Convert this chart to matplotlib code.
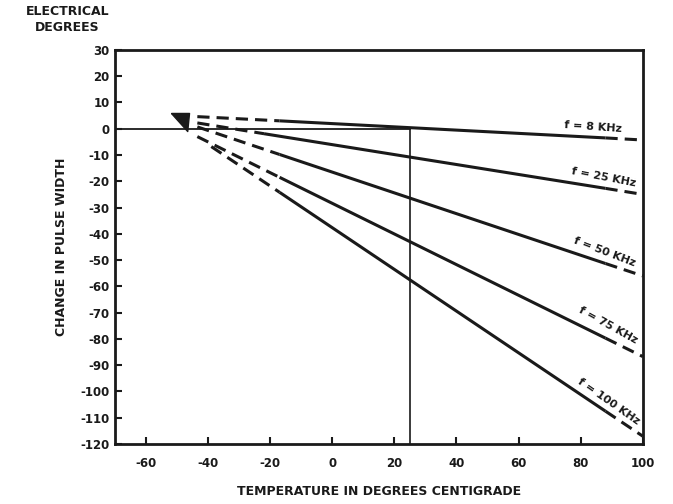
import matplotlib
matplotlib.use("Agg")
import matplotlib.pyplot as plt

# ---- data ----
labels = ["f = 8 KHz", "f = 25 KHz", "f = 50 KHz", "f = 75 KHz", "f = 100 KHz"]
# temperature break points: start of dashed part, start of solid, end of solid, end of line
temps_8 = [-43.5, -17, 88, 100]
vals_8 = [4.6, 3.0, -3.5, -4.3]
temps_25 = [-43.5, -22, 88, 100]
vals_25 = [2.2, -1.9, -22.7, -25.0]
temps_50 = [-43.5, -17, 88, 100]
vals_50 = [0.7, -9.8, -51.3, -56.0]
temps_75 = [-43.5, -17, 88, 100]
vals_75 = [-3.0, -18.5, -79.7, -86.7]
temps_100 = [-39, -17, 88, 100]
vals_100 = [-6.8, -24.2, -107.5, -117.0]

x_ticks = [-60, -40, -20, 0, 20, 40, 60, 80, 100]
y_ticks = [30, 20, 10, 0, -10, -20, -30, -40, -50, -60, -70, -80, -90, -100, -110, -120]
ref_temp = 25          # vertical reference line
zero_line_x = [-70, 25]
zero_line_y = [0, 0]
marker_x = [-49]
marker_y = [2.4]

series = [(temps_8, vals_8), (temps_25, vals_25), (temps_50, vals_50),
          (temps_75, vals_75), (temps_100, vals_100)]
label_rot = [-4, -11, -21, -29, -35]
label_pos = [(84, -1.2), (87, -20.5), (87, -48.5), (88, -76.5), (88, -105.5)]

ink = "#1a1a1a"
plt.rcParams['font.family'] = ['DejaVu Sans']

fig = plt.figure(figsize=(6.73, 5.04), dpi=100)
ax = fig.add_axes([0.171, 0.119, 0.784, 0.782])

for (t, v) in series:
    ax.plot(t[0:2], v[0:2], color=ink, lw=2.2, ls=(0, (4, 2.3)), dash_capstyle='butt')
    ax.plot(t[1:3], v[1:3], color=ink, lw=2.2, solid_capstyle='butt')
    ax.plot(t[2:4], v[2:4], color=ink, lw=2.2, ls=(0, (4, 2.3)), dash_capstyle='butt')

ax.plot(zero_line_x, zero_line_y, color=ink, lw=1.3)
ax.plot([ref_temp, ref_temp], [0, -120], color=ink, lw=1.2)

tri = [(-1, 1), (1, 1), (0.8, -1), (-1, 1)]
ax.plot(marker_x, marker_y, marker=tri, markersize=13, color=ink, ls='none')

for (lab, rot, (px, py)) in zip(labels, label_rot, label_pos):
    ax.text(px, py, lab, rotation=rot, rotation_mode='anchor', ha='center', va='bottom',
            fontsize=8, fontweight='bold', color=ink)

ax.set_xlim(-70, 100)
ax.set_ylim(-120, 30)
ax.set_xticks(x_ticks)
ax.set_yticks(y_ticks)
ax.set_xticklabels([str(v) for v in x_ticks], fontsize=8.5, fontweight='bold')
ax.set_yticklabels([str(v) for v in y_ticks], fontsize=8.5, fontweight='bold')
ax.tick_params(direction='in', length=5, width=1.5, color=ink, labelcolor=ink, pad=4)
ax.tick_params(axis='x', pad=9)
for s in ax.spines.values():
    s.set_linewidth(2.0)
    s.set_color(ink)

ax.set_xlabel("TEMPERATURE IN DEGREES CENTIGRADE", fontsize=9, fontweight='bold', color=ink, labelpad=11)
ax.set_ylabel("CHANGE IN PULSE WIDTH", fontsize=9, fontweight='bold', color=ink, labelpad=9)
fig.text(0.10, 0.99, "ELECTRICAL\nDEGREES", ha='center', va='top', fontsize=9,
         fontweight='bold', color=ink, linespacing=1.3)

fig.savefig("out.png", dpi=100, facecolor='white')
